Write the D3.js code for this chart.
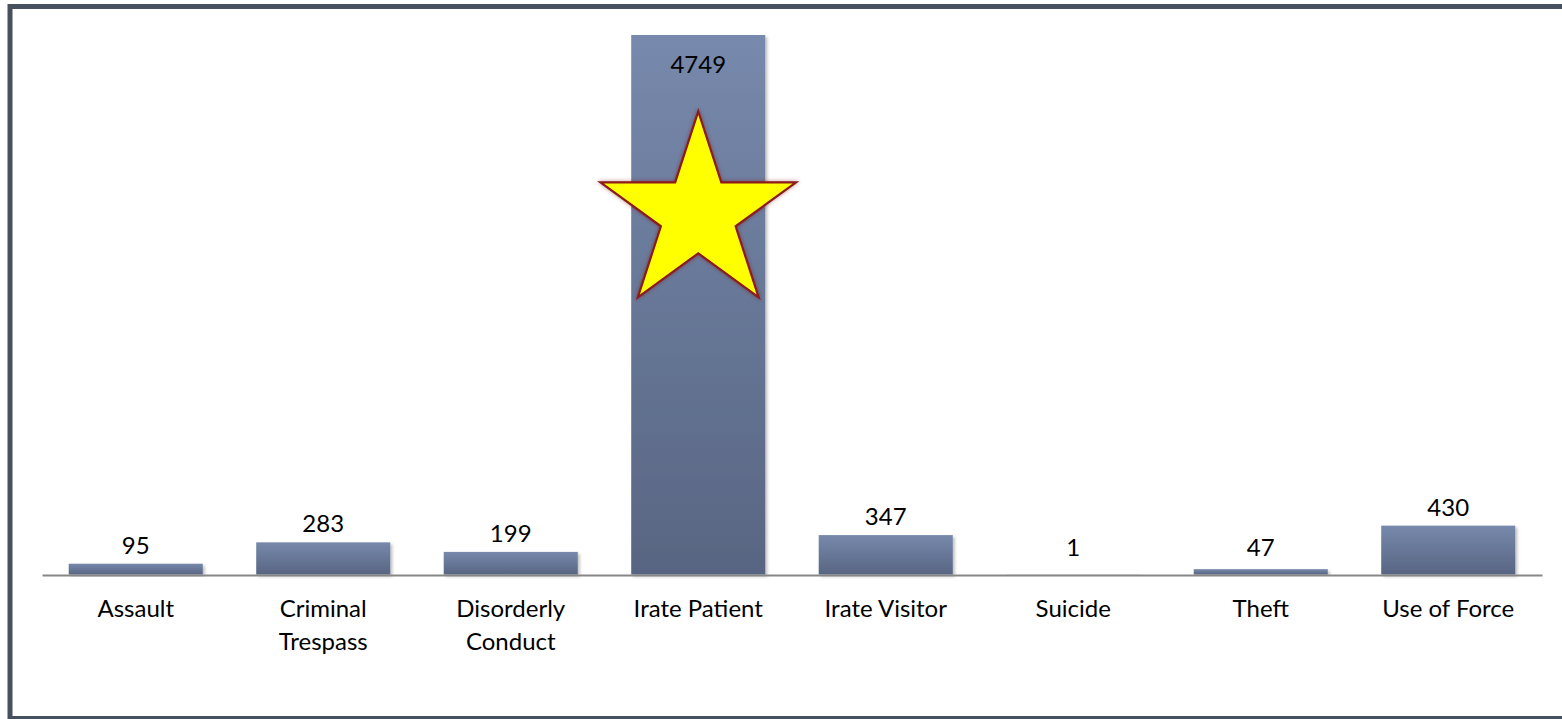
<!DOCTYPE html>
<html>
<head>
<meta charset="utf-8">
<script src="https://cdn.jsdelivr.net/npm/d3@7/dist/d3.min.js"></script>
<style>
  html, body { margin: 0; padding: 0; background: #fff; }
  svg { display: block; }
  text { font-family: Lato, "Open Sans", sans-serif; fill: #000; }
</style>
</head>
<body>
<svg id="chart" width="1562" height="719"></svg>
<script>
// ---- data ----
const categories = ["Assault", "Criminal Trespass", "Disorderly Conduct", "Irate Patient", "Irate Visitor", "Suicide", "Theft", "Use of Force"];
const categoryLines = [["Assault"], ["Criminal", "Trespass"], ["Disorderly", "Conduct"], ["Irate Patient"], ["Irate Visitor"], ["Suicide"], ["Theft"], ["Use of Force"]];
const values = [95, 283, 199, 4749, 347, 1, 47, 430];
const highlighted = "Irate Patient";
const yMax = 5000;

const W = 1562, H = 719;
const svg = d3.select("#chart");
const defs = svg.append("defs");

const grad = defs.append("linearGradient").attr("id", "barGrad")
  .attr("x1", 0).attr("y1", 0).attr("x2", 0).attr("y2", 1);
grad.append("stop").attr("offset", "0%").attr("stop-color", "#7789ac");
grad.append("stop").attr("offset", "100%").attr("stop-color", "#586582");

const sh = defs.append("filter").attr("id", "barShadow")
  .attr("x", "-10%").attr("y", "-10%").attr("width", "130%").attr("height", "130%");
sh.append("feDropShadow").attr("dx", 2).attr("dy", 2).attr("stdDeviation", 1.5)
  .attr("flood-color", "#000").attr("flood-opacity", 0.25);

const glow = defs.append("filter").attr("id", "starGlow")
  .attr("x", "-20%").attr("y", "-20%").attr("width", "140%").attr("height", "140%");
glow.append("feGaussianBlur").attr("in", "SourceAlpha").attr("stdDeviation", 2).attr("result", "b");
glow.append("feFlood").attr("flood-color", "#7a1010").attr("flood-opacity", 0.45);
glow.append("feComposite").attr("in2", "b").attr("operator", "in").attr("result", "g");
const mg = glow.append("feMerge");
mg.append("feMergeNode").attr("in", "g");
mg.append("feMergeNode").attr("in", "SourceGraphic");

// frame
svg.append("rect").attr("x", 10).attr("y", 6.5).attr("width", 1570).attr("height", 712)
  .attr("fill", "#fff").attr("stroke", "#46505f").attr("stroke-width", 5);

const x0 = 42, x1 = 1542, yBase = 574.5, yTop = 6.5;
const x = d3.scaleBand().domain(categories).range([x0, x1]).paddingInner(0.285).paddingOuter(0.1425);
const y = d3.scaleLinear().domain([0, yMax]).range([yBase, yTop]);

const data = categories.map((c, i) => ({ cat: c, lines: categoryLines[i], value: values[i] }));

// bars
svg.append("g").selectAll("rect").data(data).join("rect")
  .attr("x", d => x(d.cat))
  .attr("y", d => y(d.value))
  .attr("width", x.bandwidth())
  .attr("height", d => yBase - y(d.value))
  .attr("fill", "url(#barGrad)")
  .attr("filter", "url(#barShadow)");

// axis line
const axis = d3.axisBottom(x).tickSize(0).tickFormat("");
const ax = svg.append("g").attr("transform", `translate(0,${yBase + 0.5})`).call(axis);
ax.select(".domain").attr("stroke", "#878787").attr("stroke-width", 1.8);

// category labels
const cl = svg.append("g").selectAll("text").data(data).join("text")
  .attr("x", d => x(d.cat) + x.bandwidth() / 2)
  .attr("y", yBase + 42.5)
  .attr("text-anchor", "middle")
  .style("font-size", "24px");
cl.selectAll("tspan").data(d => d.lines.map(l => ({ l, cx: x(d.cat) + x.bandwidth() / 2 }))).join("tspan")
  .attr("x", t => t.cx)
  .attr("dy", (t, i) => i === 0 ? 0 : 33)
  .text(t => t.l);

// value labels
svg.append("g").selectAll("text").data(data).join("text")
  .attr("x", d => x(d.cat) + x.bandwidth() / 2)
  .attr("y", d => {
    const top = y(d.value);
    if (top < 60) return top + 38;
    return Math.min(top - 10, 556);
  })
  .attr("text-anchor", "middle")
  .style("font-size", "24px")
  .text(d => d.value);

// star over highlighted bar
const hd = data.find(d => d.cat === highlighted);
const R = x.bandwidth() * 0.767, r = R * 0.382;
const cx = x(hd.cat) + x.bandwidth() / 2;
const cy = y(hd.value * 0.668);
const pts = d3.range(10).map(i => {
  const a = -Math.PI / 2 + i * Math.PI / 5;
  const rad = i % 2 === 0 ? R : r;
  return [cx + rad * Math.cos(a), cy + rad * Math.sin(a)];
});
svg.append("path")
  .attr("d", d3.line()(pts) + "Z")
  .attr("fill", "#ffff00")
  .attr("stroke", "#8b1a1a")
  .attr("stroke-width", 2.2)
  .attr("stroke-linejoin", "miter")
  .attr("filter", "url(#starGlow)");
</script>
</body>
</html>
